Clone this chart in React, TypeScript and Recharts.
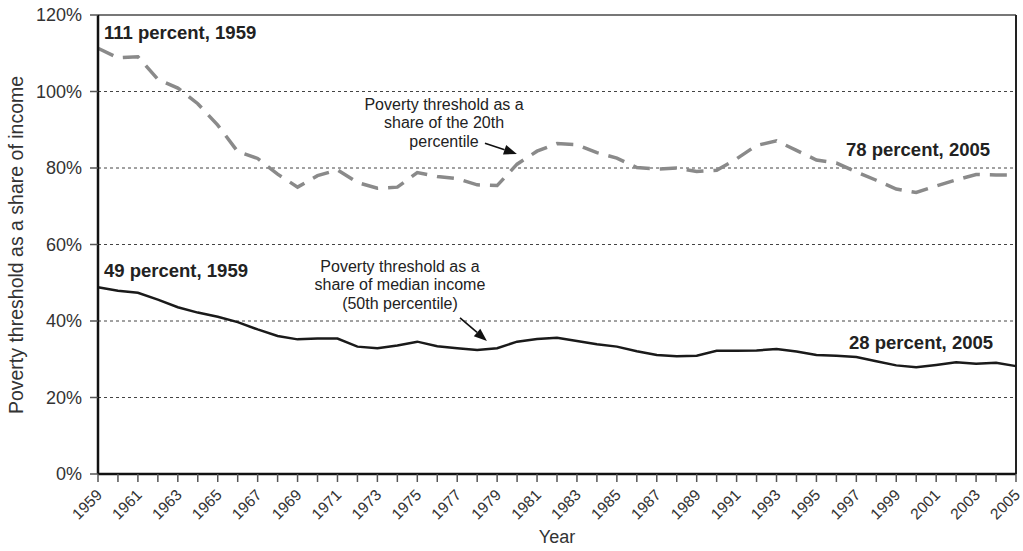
import React from 'react';
import { LineChart, Line, XAxis, YAxis, CartesianGrid, ReferenceLine, ReferenceDot } from 'recharts';

const years = [
  1959, 1960, 1961, 1962, 1963, 1964, 1965, 1966, 1967, 1968, 1969, 1970, 1971, 1972, 1973, 1974,
  1975, 1976, 1977, 1978, 1979, 1980, 1981, 1982, 1983, 1984, 1985, 1986, 1987, 1988, 1989, 1990,
  1991, 1992, 1993, 1994, 1995, 1996, 1997, 1998, 1999, 2000, 2001, 2002, 2003, 2004, 2005,
];

// poverty threshold as a share of the 20th percentile (dashed)
const share20th = [
  111.3, 108.8, 109.1, 103.2, 100.9, 96.8, 91.2, 84.3, 82.5, 78.4, 75.0, 78.0, 79.5, 76.2, 74.7, 75.0,
  78.8, 77.8, 77.2, 75.6, 75.4, 81.0, 84.4, 86.4, 86.1, 84.0, 82.6, 80.1, 79.7, 80.0, 79.1, 79.4,
  82.4, 85.9, 87.1, 84.6, 82.1, 81.3, 79.0, 76.8, 74.5, 73.6, 75.3, 76.9, 78.3, 78.2, 78.2,
];

// poverty threshold as a share of median income (solid)
const shareMedian = [
  48.8, 47.9, 47.4, 45.6, 43.6, 42.2, 41.1, 39.7, 37.8, 36.1, 35.2, 35.4, 35.4, 33.3, 32.9, 33.6,
  34.6, 33.4, 32.9, 32.4, 32.9, 34.6, 35.3, 35.6, 34.8, 33.9, 33.3, 32.1, 31.1, 30.8, 30.9, 32.2,
  32.2, 32.3, 32.7, 32.0, 31.1, 30.9, 30.6, 29.5, 28.4, 27.9, 28.5, 29.2, 28.8, 29.1, 28.2,
];

const labeledYears = [
  1959, 1961, 1963, 1965, 1967, 1969, 1971, 1973, 1975, 1977, 1979, 1981, 1983, 1985, 1987, 1989,
  1991, 1993, 1995, 1997, 1999, 2001, 2003, 2005,
];
const yTicks = [0, 20, 40, 60, 80, 100, 120];

const data = years.map((year, i) => ({ year, p20: share20th[i], p50: shareMedian[i] }));

const FONT = '"Liberation Sans", Arial, Helvetica, sans-serif';

const YearTick = (props: any) => {
  const { x, y, payload } = props;
  if (!labeledYears.includes(payload.value)) return <g />;
  const tx = x + 5;
  const ty = y + 12;
  return (
    <text x={tx} y={ty} transform={`rotate(-45, ${tx}, ${ty})`} textAnchor="end" fontSize={15.5} fill="#333" fontFamily={FONT}>
      {payload.value}
    </text>
  );
};

const textShape = (lines: string[], anchor: 'start' | 'middle' | 'end', bold: boolean) => (p: any) => (
  <text
    x={p.cx}
    y={p.cy}
    textAnchor={anchor}
    fontFamily={FONT}
    fontSize={bold ? 18.5 : 16}
    fontWeight={bold ? 'bold' : 'normal'}
    fill="#222"
  >
    {lines.map((l, i) => (
      <tspan key={i} x={p.cx} dy={i === 0 ? '0.35em' : 18.5}>
        {l}
      </tspan>
    ))}
  </text>
);

const arrowShape = (p: any) => {
  const { x1, y1, x2, y2 } = p;
  const ang = Math.atan2(y2 - y1, x2 - x1);
  const len = 13;
  const half = 5;
  const bx = x2 - len * Math.cos(ang);
  const by = y2 - len * Math.sin(ang);
  const pts = [
    [x2, y2],
    [bx - half * Math.sin(ang), by + half * Math.cos(ang)],
    [bx + half * Math.sin(ang), by - half * Math.cos(ang)],
  ]
    .map((q) => q.join(','))
    .join(' ');
  return (
    <g>
      <line x1={x1} y1={y1} x2={bx} y2={by} stroke="#111" strokeWidth={1.6} />
      <polygon points={pts} fill="#111" />
    </g>
  );
};

const YLabel = () => (
  <text
    x={16}
    y={245}
    transform="rotate(-90, 16, 245)"
    textAnchor="middle"
    dominantBaseline="central"
    fontFamily={FONT}
    fontSize={19.5}
    fill="#333"
  >
    Poverty threshold as a share of income
  </text>
);

export default function App() {
  return (
    <div style={{ position: 'absolute', left: 0, top: 0, width: 1023, height: 551, background: '#fff' }}>
      <LineChart width={1023} height={551} data={data} margin={{ top: 15, right: 7, bottom: 0, left: 0 }}>
        <CartesianGrid vertical={false} stroke="#444" strokeDasharray="3 3" strokeWidth={1} />
        <ReferenceLine y={120} stroke="#777" strokeWidth={2} />
        <ReferenceLine x={2005} stroke="#222" strokeWidth={2} />
        <XAxis
          dataKey="year"
          type="number"
          domain={[1959, 2005]}
          ticks={years}
          interval={0}
          height={77}
          tick={<YearTick />}
          tickSize={8}
          tickLine={{ stroke: '#555', strokeWidth: 1.5 }}
          axisLine={{ stroke: '#111', strokeWidth: 2.5 }}
          label={{ value: 'Year', position: 'insideBottom', offset: 8, fontSize: 18, fill: '#333', fontFamily: FONT }}
        />
        <YAxis
          type="number"
          domain={[0, 120]}
          ticks={yTicks}
          width={98}
          tickFormatter={(v: number) => `${v}%`}
          tick={{ fontSize: 18, fill: '#333', fontFamily: FONT }}
          tickSize={8}
          tickMargin={8}
          tickLine={{ stroke: '#555', strokeWidth: 1.5 }}
          axisLine={{ stroke: '#111', strokeWidth: 2.5 }}
          label={<YLabel />}
        />
        <Line
          type="linear"
          dataKey="p20"
          stroke="#8a8a8a"
          strokeWidth={3.5}
          strokeDasharray="17 10"
          dot={false}
          activeDot={false}
          isAnimationActive={false}
        />
        <Line
          type="linear"
          dataKey="p50"
          stroke="#1a1a1a"
          strokeWidth={2.5}
          dot={false}
          activeDot={false}
          isAnimationActive={false}
        />
        <ReferenceDot x={1959.3} y={115.3} r={0} shape={textShape(['111 percent, 1959'], 'start', true)} />
        <ReferenceDot x={1959.3} y={53.3} r={0} shape={textShape(['49 percent, 1959'], 'start', true)} />
        <ReferenceDot x={2003.7} y={84.7} r={0} shape={textShape(['78 percent, 2005'], 'end', true)} />
        <ReferenceDot x={2003.85} y={34.5} r={0} shape={textShape(['28 percent, 2005'], 'end', true)} />
        <ReferenceDot
          x={1976.34}
          y={96.7}
          r={0}
          shape={textShape(['Poverty threshold as a', 'share of the 20th', 'percentile'], 'middle', false)}
        />
        <ReferenceDot
          x={1974.13}
          y={54.4}
          r={0}
          shape={textShape(['Poverty threshold as a', 'share of median income', '(50th percentile)'], 'middle', false)}
        />
        <ReferenceLine segment={[{ x: 1978.39, y: 86.5 }, { x: 1979.99, y: 83.66 }]} shape={arrowShape} />
        <ReferenceLine segment={[{ x: 1977.14, y: 40.8 }, { x: 1978.49, y: 34.8 }]} shape={arrowShape} />
      </LineChart>
    </div>
  );
}
